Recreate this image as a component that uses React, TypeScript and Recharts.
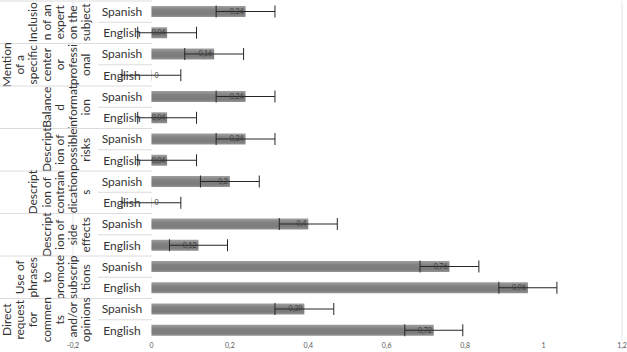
import {
  Bar,
  BarChart,
  CartesianGrid,
  ErrorBar,
  LabelList,
  XAxis,
  YAxis,
} from "recharts";

// wrapped group labels, one entry per line, as they appear in the picture
const GROUP_LINES: string[][] = [
  ["Inclusio", "n of an", "expert", "on the", "subject"],
  ["Mention", "of a", "specific", "center", "or", "professi", "onal"],
  ["Balance", "d", "informat", "ion"],
  ["Descript", "ion of", "possible", "risks"],
  ["Descript", "ion of", "contrain", "dication", "s"],
  ["Descript", "ion of", "side", "effects"],
  ["Use of", "phrases", "to", "promote", "subscrip", "tions"],
  ["Direct", "request", "for", "commen", "ts", "and/or", "opinions"],
];

const LANGS = ["Spanish", "English"];

const SPANISH = [0.24, 0.16, 0.24, 0.24, 0.2, 0.4, 0.76, 0.39];
const ENGLISH = [0.04, 0, 0.04, 0.04, 0, 0.12, 0.96, 0.72];
const SPANISH_ERR = [0.075, 0.075, 0.075, 0.075, 0.075, 0.074, 0.075, 0.075];
const ENGLISH_ERR = [0.075, 0.075, 0.075, 0.075, 0.075, 0.074, 0.074, 0.074];

const X_TICKS = [-0.2, 0, 0.2, 0.4, 0.6, 0.8, 1, 1.2];
const GRID_TICKS = [0, 0.2, 0.4, 0.6, 0.8, 1, 1.2];

type Row = {
  id: string;
  lang: string;
  group: number;
  first: boolean;
  value: number;
  err: number;
};

const ROWS: Row[] = GROUP_LINES.flatMap((_, g) => [
  { id: `${g}-es`, lang: LANGS[0], group: g, first: true, value: SPANISH[g], err: SPANISH_ERR[g] },
  { id: `${g}-en`, lang: LANGS[1], group: g, first: false, value: ENGLISH[g], err: ENGLISH_ERR[g] },
]);

const W = 627;
const H = 352;
const MARGIN = { top: 1, right: 5, bottom: 0, left: 0 };
const X_AXIS_H = 11;
const Y_AXIS_W = 73;
const BAND = (H - MARGIN.top - MARGIN.bottom - X_AXIS_H) / ROWS.length;

// label table layout
const TABLE_RIGHT = 152;
const LANG_COL_LEFT = 98;
const LANG_X = 122;
const LAST_LINE_X = 86;
const LINE_STEP = 13.2;
const FONT = "Lato, 'Open Sans', sans-serif";
const TEXT = "#333333";
const RULE = "#dcdcdc";

const fmt = (v: number) => String(Number(v.toFixed(2))).replace(".", ",");

function CategoryTick(props: any) {
  const { y, payload } = props;
  const row = ROWS[payload.index];
  if (!row) return null;
  const lines = GROUP_LINES[row.group];
  const cy = y + BAND / 2;
  return (
    <g>
      <text
        x={LANG_X}
        y={y}
        dy="0.35em"
        textAnchor="middle"
        fontSize={12}
        fill={TEXT}
        fontFamily={FONT}
      >
        {row.lang}
      </text>
      {row.first ? (
        <>
          <line x1={0} x2={TABLE_RIGHT} y1={y - BAND / 2} y2={y - BAND / 2} stroke={RULE} />
          <line x1={LANG_COL_LEFT} x2={TABLE_RIGHT} y1={cy} y2={cy} stroke={RULE} />
          {lines.map((t, i) => {
            const lx = LAST_LINE_X - (lines.length - 1 - i) * LINE_STEP;
            return (
              <text
                key={i}
                x={lx}
                y={cy}
                dy="0.35em"
                textAnchor="middle"
                fontSize={12}
                fill={TEXT}
                fontFamily={FONT}
                transform={`rotate(-90 ${lx} ${cy})`}
              >
                {t}
              </text>
            );
          })}
        </>
      ) : null}
    </g>
  );
}

function ValueLabel(props: any) {
  const { x, y, width, height, value } = props;
  if (value == null) return null;
  const end = x + width - 2;
  const tx = Math.max(end, x + 14);
  return (
    <text
      x={value === 0 ? x + 5 : tx}
      y={y + height / 2}
      dy="0.35em"
      textAnchor={value === 0 ? "middle" : "end"}
      fontSize={7}
      fill="#404040"
      fontFamily={FONT}
    >
      {fmt(value)}
    </text>
  );
}

export default function App() {
  return (
    <div style={{ position: "absolute", left: 0, top: 0, background: "#fff" }}>
      <BarChart
        width={W}
        height={H}
        data={ROWS}
        layout="vertical"
        margin={MARGIN}
        barCategoryGap="24%"
        style={{ fontFamily: FONT }}
      >
        <defs>
          <linearGradient id="barFill" x1="0" y1="0" x2="0" y2="1">
            <stop offset="0%" stopColor="#a0a0a0" />
            <stop offset="35%" stopColor="#818181" />
            <stop offset="75%" stopColor="#7b7b7b" />
            <stop offset="100%" stopColor="#949494" />
          </linearGradient>
        </defs>
        <XAxis
          xAxisId="grid"
          type="number"
          domain={[-0.2, 1.2]}
          ticks={GRID_TICKS}
          hide
        />
        <CartesianGrid
          xAxisId="grid"
          horizontal={false}
          stroke="#e3e6ed"
          strokeWidth={1}
        />
        <XAxis
          type="number"
          domain={[-0.2, 1.2]}
          ticks={X_TICKS}
          interval={0}
          height={X_AXIS_H}
          axisLine={false}
          tickLine={false}
          tickSize={0}
          tickMargin={2}
          tickFormatter={fmt}
          tick={{ fontSize: 7, fill: "#595959", fontFamily: FONT }}
        />
        <YAxis
          type="category"
          dataKey="id"
          width={Y_AXIS_W}
          interval={0}
          axisLine={false}
          tickLine={false}
          tickSize={0}
          tickMargin={0}
          tick={<CategoryTick />}
        />
        <Bar
          dataKey="value"
          fill="url(#barFill)"
          barSize={11}
          minPointSize={(v: number) => (v === 0 ? 0.3 : 0)}
          isAnimationActive={false}
        >
          <ErrorBar dataKey="err" direction="x" width={6} stroke="#262626" strokeWidth={1} />
          <LabelList dataKey="value" content={<ValueLabel />} />
        </Bar>
      </BarChart>
    </div>
  );
}
